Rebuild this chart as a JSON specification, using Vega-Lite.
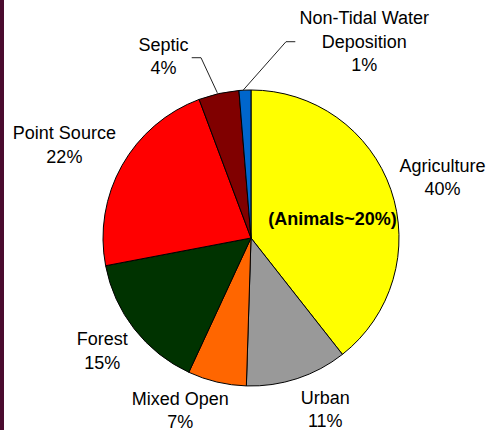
{
  "$schema": "https://vega.github.io/schema/vega-lite/v6.json",
  "width": 482,
  "height": 430,
  "autosize": {"type": "none"},
  "padding": {"left": 4, "right": 0, "top": 0, "bottom": 0},
  "background": "#4a0b2e",
  "config": {
    "view": {"fill": "white", "stroke": null},
    "text": {"font": "Liberation Sans"}
  },
  "datasets": {
    "slices": [
      {"idx": 1, "key": "agr", "name": "Agriculture", "value": 39.4, "label": "Agriculture\n40%", "note": "(Animals~20%)"},
      {"idx": 2, "key": "urb", "name": "Urban", "value": 11.1, "label": "Urban\n11%", "note": ""},
      {"idx": 3, "key": "mix", "name": "Mixed Open", "value": 6.4, "label": "Mixed Open\n7%", "note": ""},
      {"idx": 4, "key": "for", "name": "Forest", "value": 15.1, "label": "Forest\n15%", "note": ""},
      {"idx": 5, "key": "pts", "name": "Point Source", "value": 22.3, "label": "Point Source\n22%", "note": ""},
      {"idx": 6, "key": "sep", "name": "Septic", "value": 4.4, "label": "Septic\n4%", "note": ""},
      {"idx": 7, "key": "ntw", "name": "Non-Tidal Water Deposition", "value": 1.3, "label": "Non-Tidal Water\nDeposition\n1%", "note": ""}
    ],
    "leaders": [
      {"line": "Septic", "pt": 1, "u": -0.3986, "v": 1.2162},
      {"line": "Septic", "pt": 2, "u": -0.3358, "v": 1.2162},
      {"line": "Septic", "pt": 3, "u": -0.2257, "v": 0.9797},
      {"line": "Non-Tidal", "pt": 1, "u": 0.3014, "v": 1.3243},
      {"line": "Non-Tidal", "pt": 2, "u": 0.2385, "v": 1.3243},
      {"line": "Non-Tidal", "pt": 3, "u": -0.05, "v": 0.998}
    ]
  },
  "layer": [
    {
      "data": {"name": "slices"},
      "mark": {"type": "arc", "outerRadius": 148, "stroke": "black", "strokeWidth": 1, "xOffset": 6, "yOffset": 23},
      "encoding": {
        "theta": {"field": "value", "type": "quantitative", "stack": true, "scale": {"domain": [0, 100]}},
        "order": {"field": "idx", "type": "quantitative"},
        "color": {
          "field": "name", "type": "nominal", "legend": null,
          "scale": {
            "domain": ["Agriculture", "Urban", "Mixed Open", "Forest", "Point Source", "Septic", "Non-Tidal Water Deposition"],
            "range": ["#ffff00", "#999999", "#ff6600", "#003300", "#ff0000", "#800000", "#0066cc"]
          }
        }
      }
    },
    {
      "data": {"name": "slices"},
      "mark": {
        "type": "text", "radius": 190, "lineBreak": "\n", "fontSize": 18, "lineHeight": 23.5,
        "align": "center", "baseline": "middle", "color": "black", "xOffset": 6, "yOffset": 23,
        "dx": {"expr": "{'agr': 12, 'urb': 15, 'mix': -27, 'for': 1, 'pts': -21, 'sep': -46, 'ntw': 121}[datum.key]"},
        "dy": {"expr": "{'agr': -9.25, 'urb': -19.75, 'mix': -23.35, 'for': -14.75, 'pts': -10.75, 'sep': -6.75, 'ntw': -28.9}[datum.key]"}
      },
      "encoding": {
        "theta": {"field": "value", "type": "quantitative", "stack": true, "scale": {"domain": [0, 100]}},
        "order": {"field": "idx", "type": "quantitative"},
        "detail": {"field": "key", "type": "nominal"},
        "text": {"field": "label", "type": "nominal"}
      }
    },
    {
      "data": {"name": "slices"},
      "mark": {
        "type": "text", "radius": 83, "fontSize": 18, "fontWeight": "bold",
        "align": "center", "baseline": "middle", "color": "black", "xOffset": 6, "yOffset": 23, "dx": 3, "dy": 9.5
      },
      "encoding": {
        "theta": {"field": "value", "type": "quantitative", "stack": true, "scale": {"domain": [0, 100]}},
        "order": {"field": "idx", "type": "quantitative"},
        "detail": {"field": "key", "type": "nominal"},
        "text": {"field": "note", "type": "nominal"}
      }
    },
    {
      "data": {"name": "leaders"},
      "mark": {"type": "line", "color": "#222222", "strokeWidth": 1},
      "encoding": {
        "x": {"field": "u", "type": "quantitative", "axis": null, "scale": {"domain": [-1.6669, 1.5899], "nice": false, "zero": false}},
        "y": {"field": "v", "type": "quantitative", "axis": null, "scale": {"domain": [-1.2993, 1.6061], "nice": false, "zero": false}},
        "detail": {"field": "line", "type": "nominal"},
        "order": {"field": "pt", "type": "quantitative"}
      }
    }
  ]
}
